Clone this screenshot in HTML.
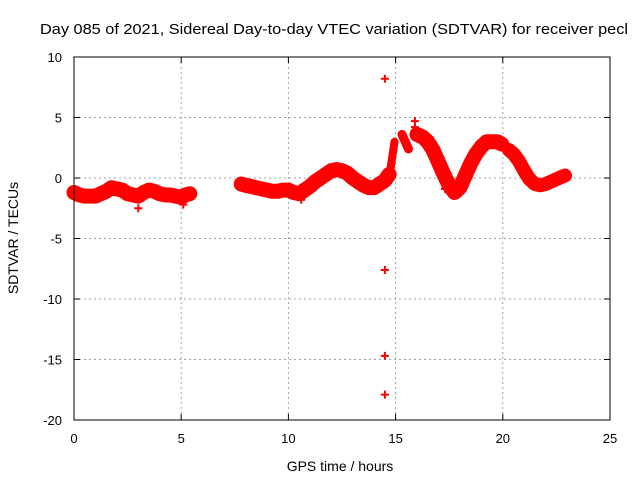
<!DOCTYPE html>
<html><head><meta charset="utf-8"><style>
body{margin:0;background:#fff}
svg text{font-family:"Liberation Sans",Arial,sans-serif;font-size:13px;fill:#000}
</style></head><body>
<svg id="chart" width="640" height="480" xmlns="http://www.w3.org/2000/svg">
<text x="40" y="34" font-size="15" textLength="588" lengthAdjust="spacingAndGlyphs" style="font-size:15px">Day 085 of 2021, Sidereal Day-to-day VTEC variation (SDTVAR) for receiver pecl</text>
<g id="grid"></g>
<g id="ticks"></g>
<g id="series"></g>
<rect x="74" y="57" width="536" height="363" fill="none" stroke="#000" stroke-width="1"/>
<text x="0" y="0" text-anchor="middle" transform="translate(18,238) rotate(-90)" style="font-size:14px">SDTVAR / TECUs</text>
<text x="340" y="471" text-anchor="middle" style="font-size:14px">GPS time / hours</text>
</svg>
<script>
const xTicks=[0,5,10,15,20,25];
const yTicks=[10,5,0,-5,-10,-15,-20];
const seg1T=[0,0.25,0.5,0.75,1,1.25,1.5,1.75,2,2.25,2.5,2.75,3,3.25,3.5,3.75,4,4.25,4.5,4.75,5,5.2,5.4];
const seg1V=[-1.2,-1.4,-1.5,-1.5,-1.5,-1.3,-1.1,-0.8,-0.9,-1.0,-1.3,-1.4,-1.5,-1.2,-1.0,-1.1,-1.3,-1.4,-1.4,-1.5,-1.6,-1.4,-1.3];
const seg2T=[7.8,8,8.25,8.5,8.75,9,9.25,9.5,9.75,10,10.25,10.5,10.75,11,11.25,11.5,11.75,12,12.25,12.5,12.75,13,13.25,13.5,13.75,14,14.25,14.5,14.7];
const seg2V=[-0.5,-0.6,-0.7,-0.8,-0.9,-1.0,-1.1,-1.1,-1.0,-1.0,-1.2,-1.3,-1.0,-0.7,-0.3,0.0,0.3,0.6,0.7,0.6,0.4,0.0,-0.3,-0.6,-0.8,-0.8,-0.5,-0.2,0.3];
const seg3T=[14.75,14.8,14.85,14.9,14.95];
const seg3V=[0.6,1.2,1.8,2.4,3.0];
const seg4T=[15.3,15.4,15.5,15.6];
const seg4V=[3.6,3.2,2.8,2.4];
const seg5T=[16,16.25,16.5,16.75,17,17.25,17.5,17.75,18,18.25,18.5,18.75,19,19.25,19.5,19.75,19.95];
const seg5V=[3.6,3.4,3.0,2.3,1.3,0.3,-0.6,-1.2,-0.8,0.2,1.2,2.0,2.6,3.0,3.0,3.0,2.8];
const seg6T=[20.3,20.5,20.75,21,21.25,21.5,21.75,22,22.25,22.5,22.75,22.9];
const seg6V=[2.3,2.0,1.4,0.6,-0.1,-0.5,-0.6,-0.5,-0.3,-0.1,0.1,0.2];
const lowT=[3,5.1,10.6,17.3,17.5];
const lowV=[-2.5,-2.2,-1.8,-0.9,-0.1];
const outT=[14.5,14.5,14.5,14.5,15.9,15.9];
const outV=[8.2,-7.6,-14.7,-17.9,4.7,4.2];
const X=h=>74+h*536/25;
const Y=v=>57+(10-v)*363/30;
const NS="http://www.w3.org/2000/svg";
const grid=document.getElementById('grid'),ticks=document.getElementById('ticks'),ser=document.getElementById('series');
function mk(tag,attrs,parent){const e=document.createElementNS(NS,tag);for(const k in attrs)e.setAttribute(k,attrs[k]);parent.appendChild(e);return e;}
xTicks.forEach(t=>{
  const x=X(t);
  if(t>0&&t<25){const g=mk('line',{x1:x,x2:x,y1:57,y2:420,stroke:'#a0a0a0','stroke-dasharray':'2,3'},grid);
  
  }
  mk('line',{x1:x,x2:x,y1:420,y2:414,stroke:'#000'},ticks);
  mk('line',{x1:x,x2:x,y1:57,y2:63,stroke:'#000'},ticks);
  const tx=mk('text',{x:x,y:443,'text-anchor':'middle'},ticks);tx.textContent=t;
  
  
});
yTicks.forEach(t=>{
  const y=Y(t);
  if(t>-20&&t<10){const g=mk('line',{x1:74,x2:610,y1:y,y2:y,stroke:'#a0a0a0','stroke-dasharray':'2,3'},grid);
  
  }
  mk('line',{x1:74,x2:80,y1:y,y2:y,stroke:'#000'},ticks);
  mk('line',{x1:610,x2:604,y1:y,y2:y,stroke:'#000'},ticks);
  const tx=mk('text',{x:62,y:y+5,'text-anchor':'end'},ticks);tx.textContent=t;
  
  
});
function band(T,V,w){
  const pts=T.map((t,i)=>X(t)+','+Y(V[i])).join(' ');
  const p=mk('polyline',{points:pts,fill:'none',stroke:'#ff0000','stroke-width':w,'stroke-linejoin':'round','stroke-linecap':'round'},ser);
  
  
}
function plus(T,V){
  T.forEach((t,i)=>{
    const x=X(t),y=Y(V[i]);
    const p=mk('path',{d:`M${x-4},${y}h8M${x},${y-4}v8`,stroke:'#ff0000','stroke-width':2},ser);
    
    
  });
}
band(seg1T,seg1V,15);band(seg2T,seg2V,15);band(seg3T,seg3V,8);band(seg4T,seg4V,9);band(seg5T,seg5V,15);band(seg6T,seg6V,14);
[[seg1T,seg1V],[seg2T,seg2V],[seg3T,seg3V],[seg4T,seg4V],[seg5T,seg5V],[seg6T,seg6V],[lowT,lowV],[outT,outV]].forEach(s=>plus(s[0],s[1]));
</script>
</body></html>
